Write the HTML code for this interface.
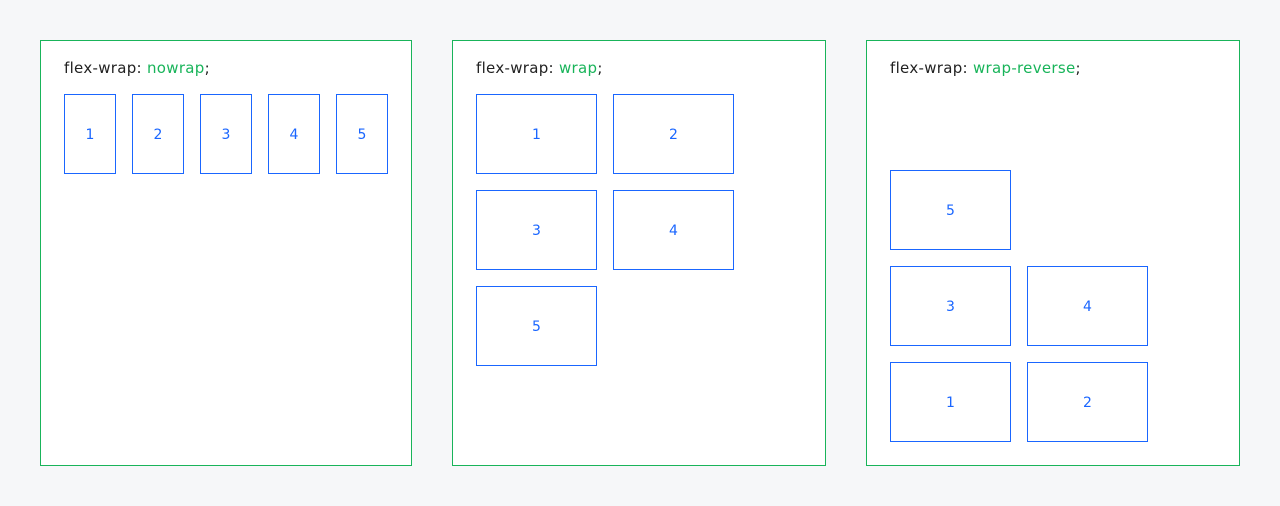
<!DOCTYPE html>
<html><head><style>
body{margin:0;width:1280px;height:506px;background:#f6f7f9;position:relative;font-family:"DejaVu Sans","Liberation Sans",sans-serif;overflow:hidden}
.p{position:absolute;top:40px;height:424px;background:#fff;border:1px solid #19b45a}
.t{position:absolute;left:23px;top:18px;font-size:15px;color:#222;letter-spacing:0.3px}
.t span{color:#19b45a}
.b{position:absolute;border:1px solid #1a66ff;box-sizing:border-box;color:#1a66ff;font-size:14px;display:flex;align-items:center;justify-content:center;padding-top:2px}
</style></head><body>
<div class="p" style="left:40px;width:370px">
<div class="t">flex-wrap: <span>nowrap</span>;</div>
<div class="b" style="left:23px;top:53px;width:52px;height:80px">1</div>
<div class="b" style="left:91px;top:53px;width:52px;height:80px">2</div>
<div class="b" style="left:159px;top:53px;width:52px;height:80px">3</div>
<div class="b" style="left:227px;top:53px;width:52px;height:80px">4</div>
<div class="b" style="left:295px;top:53px;width:52px;height:80px">5</div>
</div>
<div class="p" style="left:452px;width:372px">
<div class="t">flex-wrap: <span>wrap</span>;</div>
<div class="b" style="left:23px;top:53px;width:121px;height:80px">1</div>
<div class="b" style="left:160px;top:53px;width:121px;height:80px">2</div>
<div class="b" style="left:23px;top:149px;width:121px;height:80px">3</div>
<div class="b" style="left:160px;top:149px;width:121px;height:80px">4</div>
<div class="b" style="left:23px;top:245px;width:121px;height:80px">5</div>
</div>
<div class="p" style="left:866px;width:372px">
<div class="t">flex-wrap: <span>wrap-reverse</span>;</div>
<div class="b" style="left:23px;top:129px;width:121px;height:80px">5</div>
<div class="b" style="left:23px;top:225px;width:121px;height:80px">3</div>
<div class="b" style="left:160px;top:225px;width:121px;height:80px">4</div>
<div class="b" style="left:23px;top:321px;width:121px;height:80px">1</div>
<div class="b" style="left:160px;top:321px;width:121px;height:80px">2</div>
</div>
</body></html>
